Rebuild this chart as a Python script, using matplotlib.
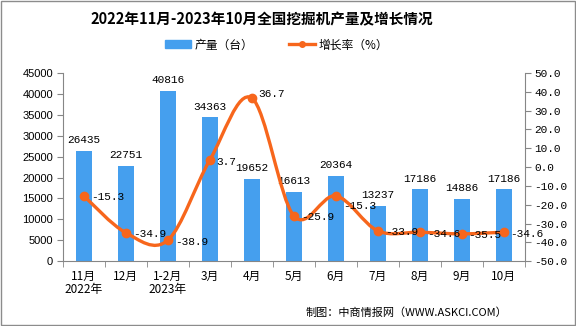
import matplotlib
matplotlib.use('Agg')
import matplotlib.pyplot as plt
from matplotlib.path import Path
from matplotlib.patches import PathPatch, Rectangle
from matplotlib.lines import Line2D
import numpy as np

plt.rcParams['font.family'] = ['Noto Sans CJK SC', 'DejaVu Sans']

months = ['11月\n2022年', '12月', '1-2月\n2023年', '3月', '4月', '5月', '6月', '7月', '8月', '9月', '10月']
output = [26435, 22751, 40816, 34363, 19652, 16613, 20364, 13237, 17186, 14886, 17186]
growth = [-15.3, -34.9, -38.9, 3.7, 36.7, -25.9, -15.3, -33.9, -34.6, -35.5, -34.6]

bar_color = '#459FEE'
line_color = '#F7661C'
axis_gray = '#868686'

fig = plt.figure(figsize=(5.76, 3.26), dpi=100)
ax = fig.add_axes([0.109, 0.199, 0.802, 0.577])
ax2 = ax.twinx()

x = np.arange(len(months))
ax.bar(x, output, width=0.38, color=bar_color, zorder=2)
for xi, v in zip(x, output):
    ax.annotate(str(v), (xi, v), xytext=(0, 4), textcoords='offset points',
                ha='center', va='bottom', fontsize=8, family='Liberation Mono')

ax.set_xlim(-0.5, len(months) - 0.5)
ax.set_ylim(0, 45000)
ax.set_yticks(np.arange(0, 45001, 5000))
ax.set_yticklabels([str(v) for v in range(0, 45001, 5000)], fontsize=8, family='Liberation Sans')
ax.set_xticks(x)
ax.set_xticklabels(months, fontsize=8.5, linespacing=1.1)
ax.set_xticks(np.arange(-0.5, len(months), 1), minor=True)
ax.tick_params(axis='x', which='major', length=0, pad=6)
ax.tick_params(axis='x', which='minor', length=4, color=axis_gray, direction='out')
ax.tick_params(axis='y', length=4, color=axis_gray, direction='out', pad=3)

ax2.set_ylim(-50, 50)
ax2.set_yticks(np.arange(-50, 51, 10))
ax2.set_yticklabels([f'{v:.1f}' for v in np.arange(-50, 51, 10)], fontsize=8, family='Liberation Mono')
ax2.tick_params(axis='y', length=4, color=axis_gray, direction='out', pad=3)

for a in (ax, ax2):
    a.spines['top'].set_visible(False)
    for s in ['left', 'right', 'bottom']:
        a.spines[s].set_color(axis_gray)
ax.spines['right'].set_visible(False)
ax2.spines['left'].set_visible(False)
ax2.spines['bottom'].set_visible(False)

# smooth line drawn as bezier segments through the data points
pts = np.column_stack([x, growth]).astype(float)
verts = [tuple(pts[0])]
codes = [Path.MOVETO]
n = len(pts)
for i in range(n - 1):
    p0 = pts[i - 1] if i > 0 else pts[i]
    p1 = pts[i]
    p2 = pts[i + 1]
    p3 = pts[i + 2] if i + 2 < n else pts[i + 1]
    c1 = p1 + (p2 - p0) / 6.0
    c2 = p2 - (p3 - p1) / 6.0
    verts += [tuple(c1), tuple(c2), tuple(p2)]
    codes += [Path.CURVE4] * 3
ax2.add_patch(PathPatch(Path(verts, codes), facecolor='none', edgecolor=line_color,
                        lw=2.4, zorder=3, capstyle='round'))
ax2.plot(x, growth, linestyle='none', marker='o', ms=6, color=line_color, zorder=4)
for i, (xi, v) in enumerate(zip(x, growth)):
    dy = -1
    if v > 30:
        dy = 3
    elif i == 6:
        dy = -7
    ax2.annotate(f'{v:.1f}', (xi, v), xytext=(5, dy), textcoords='offset points',
                 ha='left', va='center', fontsize=8, family='Liberation Mono', zorder=5)

fig.text(0.455, 0.94, '2022年11月-2023年10月全国挖掘机产量及增长情况', ha='center', va='center',
         fontsize=10.5, fontweight='bold')

handles = [Rectangle((0, 0), 1, 1, color=bar_color),
           Line2D([0], [0], color=line_color, lw=2.4, marker='o', ms=4)]
fig.legend(handles, ['产量（台）', '增长率（%）'], loc='center', bbox_to_anchor=(0.48, 0.862),
           ncol=2, frameon=False, fontsize=8.5, handlelength=2.2, handleheight=0.7,
           columnspacing=3.0, handletextpad=0.3)

fig.text(0.88, 0.04, '制图：中商情报网（WWW.ASKCI.COM）', ha='right', va='center', fontsize=8)

fig.patches.append(Rectangle((0.001, 0.002), 0.997, 0.995, transform=fig.transFigure,
                             fill=False, edgecolor='#8c8c8c', lw=1))

fig.savefig('out.png', dpi=100)
